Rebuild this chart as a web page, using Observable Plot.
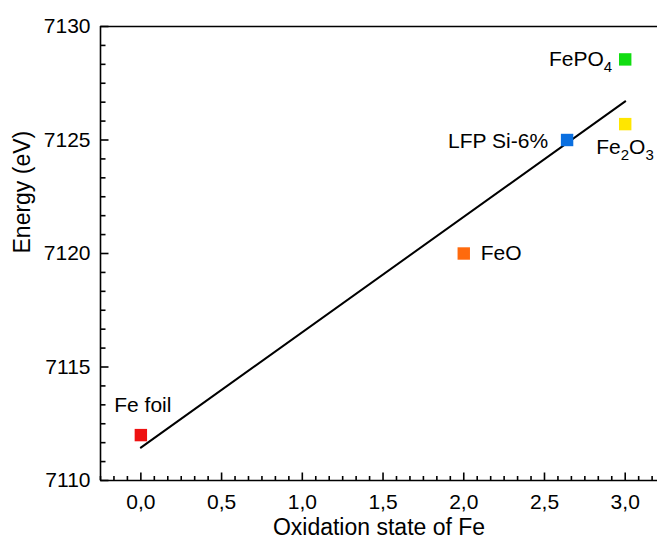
<!DOCTYPE html>
<html><head><meta charset="utf-8">
<script src="https://cdn.jsdelivr.net/npm/d3@7"></script>
<script src="https://cdn.jsdelivr.net/npm/@observablehq/plot@0.6"></script>
<style>body{margin:0;background:#fff;} svg{display:block;}</style>
</head><body><div id="chart"></div>
<script>
const samples = ["Fe foil", "FeO", "LFP Si-6%", "Fe2O3", "FePO4"];
const oxidation = [0, 2, 2.64, 3, 3];
const energy = [7112, 7120, 7125, 7125.7, 7128.55];
const colors = ["#ee1111", "#ff6a0d", "#0a6fe0", "#ffe600", "#11dd11"];
const labelDx = [2, 17, -19, -29, -13];
const labelDy = [-30, 0, 1, 23, 0];
const labelAnchor = ["middle", "start", "end", "start", "end"];
const fitX = [0, 3];
const fitY = [7111.45, 7126.7];
const xDomain = [-0.25, 3.2];
const yDomain = [7110, 7130];
const xMajor = [0, 0.5, 1, 1.5, 2, 2.5, 3];
const xTickLabels = ["0,0", "0,5", "1,0", "1,5", "2,0", "2,5", "3,0"];
const yMajor = [7110, 7115, 7120, 7125, 7130];
const yTickLabels = ["7110", "7115", "7120", "7125", "7130"];
const xMinor = d3.range(-3, 39).filter(i => i % 6 !== 0).map(i => i / 12);
const yMinor = d3.range(0, 25).filter(i => i % 6 !== 0).map(i => 7110 + i * 5 / 6);
const xTitle = "Oxidation state of Fe";
const yTitle = "Energy (eV)";

const W = 657, H = 543, mL = 100, mR = 0, mT = 26, mB = 63;

const points = samples.map((s, i) => ({s, x: oxidation[i], y: energy[i], c: colors[i], dx: labelDx[i], dy: labelDy[i], a: labelAnchor[i]}));
const fit = fitX.map((x, i) => ({x, y: fitY[i]}));
const font = "Liberation Sans, Arial, sans-serif";
const ink = "#000";

// inward tick shapes (drawn as dot symbols)
const tickUp = len => ({draw(ctx) { ctx.moveTo(0, 0); ctx.lineTo(0, -len); }});
const tickRight = len => ({draw(ctx) { ctx.moveTo(0, 0); ctx.lineTo(len, 0); }});

const plot = Plot.plot({
  width: W, height: H,
  marginLeft: mL, marginRight: mR, marginTop: mT, marginBottom: mB,
  style: {fontFamily: font, fontSize: "21px", color: ink, background: "#fff"},
  x: {domain: xDomain, label: null},
  y: {domain: yDomain, label: null},
  marks: [
    Plot.axisX(xMajor, {tickSize: 0, tickPadding: 14, tickFormat: d => xTickLabels[xMajor.indexOf(d)], fontSize: 21, fill: ink, label: null}),
    Plot.axisY(yMajor, {tickSize: 0, tickPadding: 10, tickFormat: d => yTickLabels[yMajor.indexOf(d)], fontSize: 21, fill: ink, label: null}),
    Plot.dot(xMajor, {x: d => d, y: yDomain[0], symbol: tickUp(8), fill: "none", stroke: ink, strokeWidth: 1.6}),
    Plot.dot(xMinor, {x: d => d, y: yDomain[0], symbol: tickUp(4.5), fill: "none", stroke: ink, strokeWidth: 1.6}),
    Plot.dot(yMajor, {x: xDomain[0], y: d => d, symbol: tickRight(8), fill: "none", stroke: ink, strokeWidth: 1.6}),
    Plot.dot(yMinor, {x: xDomain[0], y: d => d, symbol: tickRight(5), fill: "none", stroke: ink, strokeWidth: 1.6}),
    Plot.ruleY(yDomain, {stroke: ink, strokeWidth: 1.6}),
    Plot.ruleX([xDomain[0]], {stroke: ink, strokeWidth: 1.6}),
    Plot.text([xTitle], {frameAnchor: "bottom", text: d => d, dy: 54, fontSize: 23, fill: ink}),
    Plot.text([yTitle], {frameAnchor: "left", text: d => d, dx: -78, rotate: -90, fontSize: 23, fill: ink}),
    Plot.line(fit, {x: "x", y: "y", stroke: ink, strokeWidth: 2}),
    Plot.dot(points, {x: "x", y: "y", fill: "c", symbol: "square", r: 7, stroke: null}),
    ...points.map(p => Plot.text([p], {x: "x", y: "y", text: "s", dx: p.dx, dy: p.dy, textAnchor: p.a, fontSize: 21, fill: ink}))
  ]
});
document.getElementById("chart").appendChild(plot);

d3.select(plot).selectAll("text").each(function() {
  const t = this.textContent;
  if (t === "FePO4") {
    this.innerHTML = 'FePO<tspan font-size="15" dy="6">4</tspan>';
  } else if (t === "Fe2O3") {
    this.innerHTML = 'Fe<tspan font-size="15" dy="6">2</tspan><tspan dy="-6">O</tspan><tspan font-size="15" dy="6">3</tspan>';
  }
});
</script>
</body></html>
